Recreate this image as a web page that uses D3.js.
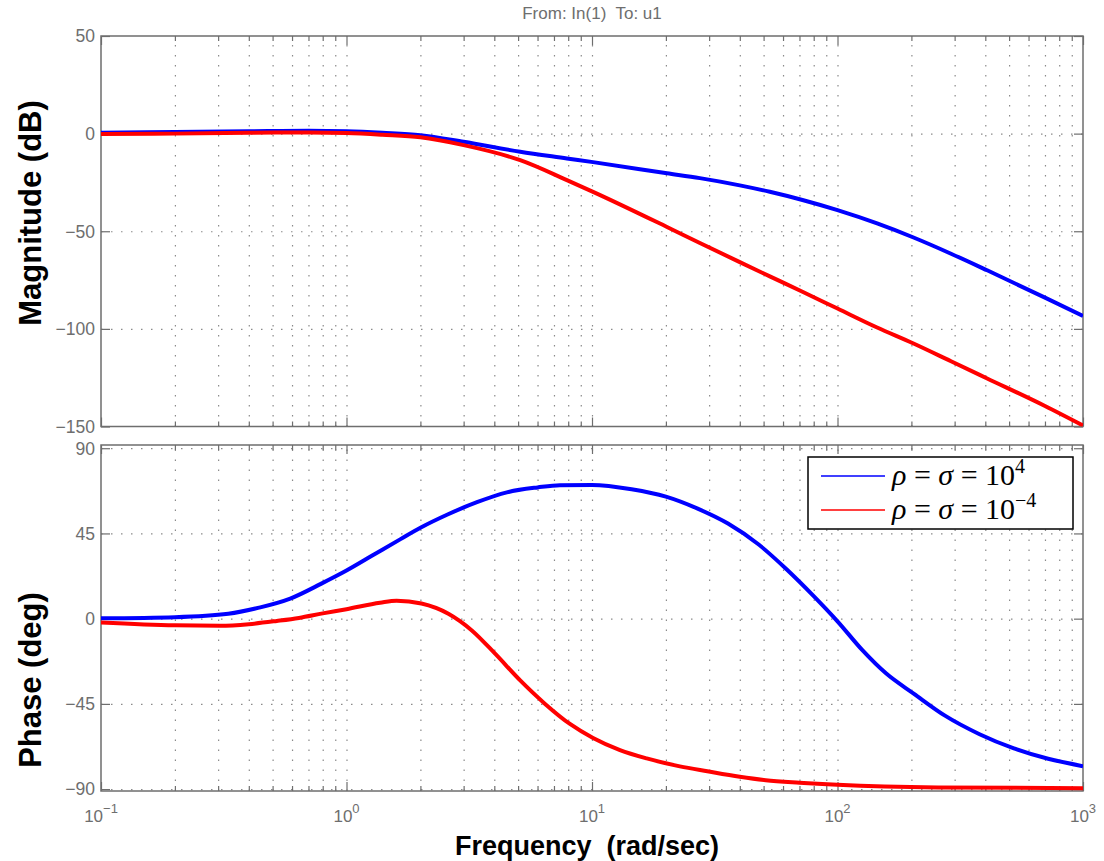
<!DOCTYPE html>
<html>
<head>
<meta charset="utf-8">
<script src="https://cdn.jsdelivr.net/npm/d3@7"></script>
<style>
body{margin:0;background:#fff;}
text{white-space:pre;}
</style>
</head>
<body>
<div id="chart"></div>
<script>
// magnitude (dB), sampled at magFreq (rad/sec)
var magFreq = [0.1, 0.2, 0.4, 0.7, 1, 1.4, 2, 3, 5.1, 7.9, 10.1, 20.2, 27.5, 40, 53, 72, 100, 145, 204, 290, 407, 700, 1000];
var magBlue = [0.5, 0.8, 1.2, 1.5, 1.2, 0.4, -0.8, -4.2, -9.3, -12.7, -14.6, -20.3, -22.8, -26.5, -29.8, -34, -39.2, -46, -53.2, -61.5, -70, -84, -93.4];
var magRed = [-0.2, 0, 0.4, 0.6, 0.3, -0.6, -1.9, -5.9, -13.6, -23.8, -29.8, -47.8, -56, -65.8, -73.1, -81, -89.6, -99.3, -107.5, -116.6, -125.4, -139.5, -149.5];

// phase (deg)
var phFreqBlue = [0.1, 0.2, 0.33, 0.44, 0.59, 0.79, 1, 1.3, 1.66, 2, 2.58, 3.4, 4.5, 6, 7.4, 10, 14.5, 20, 26.8, 35.8, 47.9, 62, 80, 100, 126, 158, 205, 274, 379, 523, 721, 1000];
var phBlue = [0.2, 0.8, 2.6, 5.8, 10.6, 18.5, 25.4, 34, 42, 48, 55, 61.5, 66.7, 69.3, 70.5, 70.6, 68.3, 64.4, 58.2, 50.2, 39, 26.1, 11.9, -1.4, -16.5, -29, -39.7, -51.2, -61, -68.5, -74, -77.9];
var phFreqRed = [0.1, 0.2, 0.305, 0.4, 0.52, 0.64, 0.8, 1, 1.37, 1.6, 2.02, 2.6, 3.24, 4.03, 5.1, 6.44, 8.13, 10.1, 13, 16.7, 22.8, 29.5, 40, 51, 70, 100, 257, 1000];
var phRed = [-2, -3.5, -3.7, -2.9, -1.2, 0.4, 2.8, 5.0, 8.4, 9.5, 8.0, 2.6, -6.2, -18.5, -32.6, -45, -55.6, -63, -69.4, -73.8, -78, -80.6, -83.5, -85.3, -86.6, -87.7, -89.1, -89.5];

var xMajor = [0.1, 1, 10, 100, 1000];
var xExp = ["\u22121", "0", "1", "2", "3"];
var magTicks = [50, 0, -50, -100, -150];
var phTicks = [90, 45, 0, -45, -90];
var seriesNames = ["10", "10"];
var seriesExp = ["4", "\u22124"];
var colors = ["#0000ff", "#ff0000"];

var W = 1104, H = 861;
var L = 101, R = 1083;

var xMinor = [];
for (var e = -1; e < 3; e++) {
	for (var k = 2; k <= 9; k++) xMinor.push(k * Math.pow(10, e));
}

var x = d3.scaleLog().domain([0.1, 1000]).range([L, R]);
var yMag = d3.scaleLinear().domain([-150, 50]).range([426.5, 36]);
var yPh = d3.scaleLinear().domain([-91, 91.7]).range([791, 445]);

var svg = d3.select("#chart").append("svg")
	.attr("width", W)
	.attr("height", H)
	.style("font-family", "'Liberation Sans', Arial, sans-serif");

var gray = "#6e6e6e";

function panel(y, ticks, id) {
	var top = y.range()[1], bot = y.range()[0];
	var g = svg.append("g");

	g.append("clipPath").attr("id", id)
		.append("rect").attr("x", L).attr("y", top).attr("width", R - L).attr("height", bot - top);

	// vertical grid
	g.append("g").attr("transform", "translate(0," + bot + ")")
		.call(d3.axisBottom(x).tickValues(xMinor.concat([1, 10, 100])).tickSize(-(bot - top)).tickFormat(""))
		.call(function(s){
			s.select(".domain").remove();
			s.selectAll("line").attr("stroke", "#8a8a8a").attr("stroke-dasharray", "1.5,8.5").attr("stroke-width", 1.2);
		});
	// horizontal grid
	g.append("g").attr("transform", "translate(" + L + ",0)")
		.call(d3.axisRight(y).tickValues(ticks.filter(function(v){ return y(v) > top + 1 && y(v) < bot - 1; })).tickSize(R - L).tickFormat(""))
		.call(function(s){
			s.select(".domain").remove();
			s.selectAll("line").attr("stroke", "#8a8a8a").attr("stroke-dasharray", "1.5,8.5").attr("stroke-width", 1.2);
		});

	// inward ticks, all four sides
	function tk(axis, tr) {
		g.append("g").attr("transform", tr).call(axis)
			.call(function(s){
				s.select(".domain").remove();
				s.selectAll("line").attr("stroke", gray).attr("stroke-width", 1.2);
			});
	}
	tk(d3.axisBottom(x).tickValues(xMajor).tickSize(-9).tickFormat(""), "translate(0," + bot + ")");
	tk(d3.axisBottom(x).tickValues(xMinor).tickSize(-5).tickFormat(""), "translate(0," + bot + ")");
	tk(d3.axisTop(x).tickValues(xMajor).tickSize(-9).tickFormat(""), "translate(0," + top + ")");
	tk(d3.axisTop(x).tickValues(xMinor).tickSize(-5).tickFormat(""), "translate(0," + top + ")");
	tk(d3.axisLeft(y).tickValues(ticks).tickSize(-9).tickFormat(""), "translate(" + L + ",0)");
	tk(d3.axisRight(y).tickValues(ticks).tickSize(-9).tickFormat(""), "translate(" + R + ",0)");

	// y tick labels
	g.selectAll("text.yl").data(ticks).enter().append("text")
		.attr("class", "yl")
		.attr("x", L - 6)
		.attr("y", function(d){ return y(d); })
		.attr("dy", "0.36em")
		.attr("text-anchor", "end")
		.attr("fill", gray)
		.style("font-size", "17.5px")
		.text(function(d){ return d < 0 ? "\u2212" + Math.abs(d) : d; });

	// box
	g.append("rect").attr("x", L).attr("y", top).attr("width", R - L).attr("height", bot - top)
		.attr("fill", "none").attr("stroke", gray).attr("stroke-width", 1.5);
	return g;
}

var gMag = panel(yMag, magTicks, "clipMag");
var gPh = panel(yPh, phTicks, "clipPh");

function curve(g, fr, vals, y, col, clip) {
	var pts = fr.map(function(f, i){ return [f, vals[i]]; });
	g.append("path")
		.datum(pts)
		.attr("clip-path", "url(#" + clip + ")")
		.attr("fill", "none")
		.attr("stroke", col)
		.attr("stroke-width", 4)
		.attr("stroke-linejoin", "round")
		.attr("d", d3.line().curve(d3.curveMonotoneX)
			.x(function(d){ return x(d[0]); })
			.y(function(d){ return y(d[1]); }));
}

curve(gMag, magFreq, magBlue, yMag, colors[0], "clipMag");
curve(gMag, magFreq, magRed, yMag, colors[1], "clipMag");
curve(gPh, phFreqBlue, phBlue, yPh, colors[0], "clipPh");
curve(gPh, phFreqRed, phRed, yPh, colors[1], "clipPh");

// x tick labels under phase panel
var xl = svg.selectAll("text.xl").data(xMajor).enter().append("text")
	.attr("class", "xl")
	.attr("x", function(d){ return x(d); })
	.attr("y", 822)
	.attr("text-anchor", "middle")
	.attr("fill", gray)
	.style("font-size", "17px");
xl.append("tspan").text("10");
xl.append("tspan").attr("dy", -9).style("font-size", "13px").text(function(d, i){ return xExp[i]; });

// title
svg.append("text")
	.attr("x", (L + R) / 2)
	.attr("y", 19)
	.attr("text-anchor", "middle")
	.attr("fill", gray)
	.style("font-size", "17px")
	.text("From: In(1)  To: u1");

// axis labels
svg.append("text")
	.attr("x", 587)
	.attr("y", 855)
	.attr("text-anchor", "middle")
	.style("font-weight", "bold")
	.style("font-size", "27px")
	.text("Frequency  (rad/sec)");

svg.append("text")
	.attr("transform", "translate(41,213) rotate(-90)")
	.attr("text-anchor", "middle")
	.style("font-weight", "bold")
	.style("font-size", "31px")
	.text("Magnitude (dB)");

svg.append("text")
	.attr("transform", "translate(41,680) rotate(-90)")
	.attr("text-anchor", "middle")
	.style("font-weight", "bold")
	.style("font-size", "31px")
	.text("Phase (deg)");

// legend
var lg = svg.append("g");
lg.append("rect").attr("x", 808).attr("y", 457).attr("width", 265).attr("height", 72)
	.attr("fill", "#fff").attr("stroke", "#000").attr("stroke-width", 1.5);
var rows = lg.selectAll("g.row").data(seriesNames).enter().append("g").attr("class", "row")
	.attr("transform", function(d, i){ return "translate(0," + (476 + i * 34) + ")"; });
rows.append("line").attr("x1", 821).attr("x2", 885).attr("y1", 0).attr("y2", 0)
	.attr("stroke", function(d, i){ return colors[i]; }).attr("stroke-width", 1.5);
var lt = rows.append("text").attr("x", 892).attr("y", 9)
	.style("font-family", "'Liberation Serif', 'DejaVu Serif', serif")
	.style("font-size", "30px")
	.attr("fill", "#000");
lt.append("tspan").style("font-style", "italic").text("\u03c1");
lt.append("tspan").text(" = ");
lt.append("tspan").style("font-style", "italic").text("\u03c3");
lt.append("tspan").text(function(d){ return " = " + d; });
lt.append("tspan").attr("dy", -12).style("font-size", "20px").text(function(d, i){ return seriesExp[i]; });
</script>
</body>
</html>
